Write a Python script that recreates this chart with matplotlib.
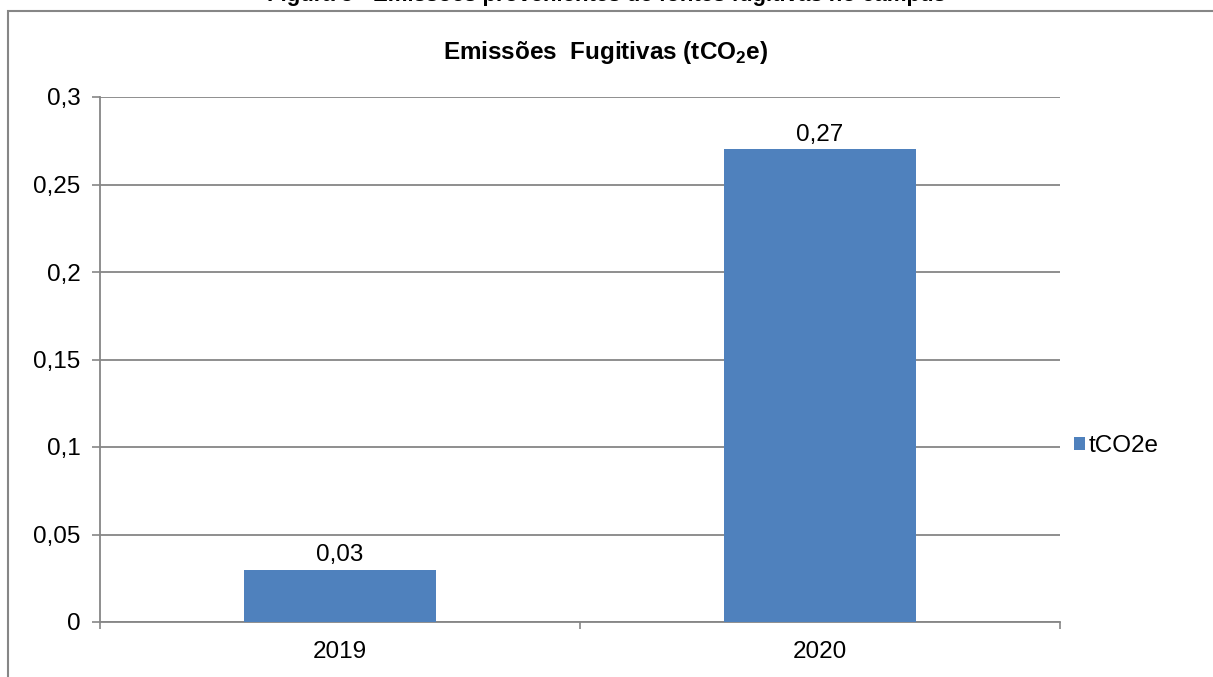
import matplotlib
matplotlib.use("Agg")
import matplotlib.pyplot as plt
from matplotlib.patches import Rectangle

# data
anos = ["2019", "2020"]
valores = [0.03, 0.27]
rotulos = ["0,03", "0,27"]
y_ticks = [0, 0.05, 0.1, 0.15, 0.2, 0.25, 0.3]
y_labels = ["0", "0,05", "0,1", "0,15", "0,2", "0,25", "0,3"]

plt.rcParams["font.family"] = ["Liberation Sans", "DejaVu Sans"]
plt.rcParams["mathtext.fontset"] = "custom"
plt.rcParams["mathtext.rm"] = "Liberation Sans"
plt.rcParams["mathtext.bf"] = "Liberation Sans:bold"

W, H = 1213, 677
fig = plt.figure(figsize=(W / 100, H / 100), dpi=100)
ax = fig.add_axes([100 / W, 1 - 622 / H, 960 / W, 525 / H])

cinza = "#868686"
azul = "#4F81BD"
fs = 17.5

x = list(range(len(anos)))
bars = ax.bar(x, valores, width=0.4, color=azul, label="tCO2e", zorder=3)
for b, r in zip(bars, rotulos):
    ax.text(b.get_x() + b.get_width() / 2, b.get_height() + 0.002, r,
            ha="center", va="bottom", fontsize=fs, color="black")

ax.set_xlim(-0.5, len(anos) - 0.5)
ax.set_ylim(0, 0.3)
ax.set_yticks(y_ticks)
ax.set_yticklabels(y_labels)
ax.set_xticks([i - 0.5 for i in range(len(anos) + 1)])
ax.set_xticklabels([])
ax.set_xticks(x, minor=True)
ax.set_xticklabels(anos, minor=True)
ax.tick_params(axis="x", which="major", length=5, width=1.2, color=cinza)
ax.tick_params(axis="x", which="minor", length=0, labelsize=fs, pad=14)
ax.tick_params(axis="y", length=6, width=1.2, color=cinza, labelsize=fs, pad=8)
ax.grid(axis="y", color=cinza, linewidth=1.3, zorder=0)
ax.set_axisbelow(True)
for s in ["top", "right"]:
    ax.spines[s].set_visible(False)
for s in ["left", "bottom"]:
    ax.spines[s].set_color(cinza)
    ax.spines[s].set_linewidth(1.3)

ax.legend(loc="center left", bbox_to_anchor=(1052 / W, 1 - 446 / H),
          bbox_transform=fig.transFigure, frameon=False, fontsize=fs,
          handlelength=0.45, handleheight=0.45, handletextpad=0.15)

fig.text(606 / W, 1 - 53 / H, r"Emissões  Fugitivas (tCO$_\mathbf{2}$e)",
         ha="center", va="center", fontsize=17.5, fontweight="bold")
fig.text(606 / W, 1 + 4 / H, "Figura 5 - Emissões provenientes de fontes fugitivas no campus",
         ha="center", va="center", fontsize=16, fontweight="bold")

fig.patches.append(Rectangle((8 / W, -0.1), 1.2, 1.1 - 11 / H, transform=fig.transFigure,
                             fill=False, edgecolor=cinza, linewidth=1.5))

fig.savefig("out.png", dpi=100)
